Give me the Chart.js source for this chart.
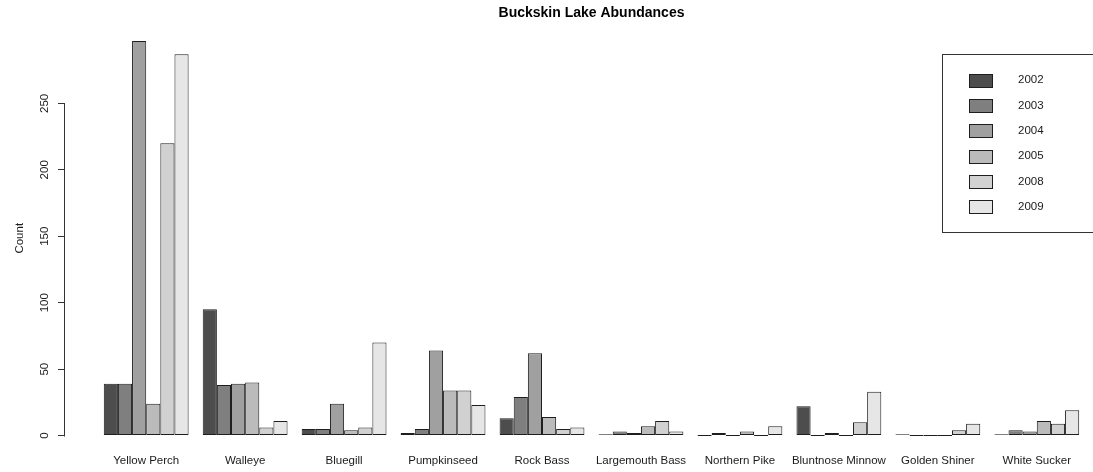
<!DOCTYPE html>
<html>
<head>
<meta charset="utf-8">
<title>Buckskin Lake Abundances</title>
<script src="https://cdn.jsdelivr.net/npm/chart.js@4.4.1/dist/chart.umd.min.js"></script>
<style>
  html, body { margin: 0; padding: 0; background: #ffffff; }
  canvas { display: block; }
</style>
</head>
<body>
<canvas id="abundance" width="1093" height="472"></canvas>
<script>
// Fish species sampled, one group of bars each
const categories = ['Yellow Perch', 'Walleye', 'Bluegill', 'Pumpkinseed', 'Rock Bass',
                    'Largemouth Bass', 'Northern Pike', 'Bluntnose Minnow', 'Golden Shiner', 'White Sucker'];

// Survey years, one bar per year inside each group
const years = ['2002', '2003', '2004', '2005', '2008', '2009'];

// Counts per species, in the order of `categories`
const count2002 = [39, 95, 5, 2, 13, 1, 0, 22, 1, 1];
const count2003 = [39, 38, 5, 5, 29, 3, 2, 0, 0, 4];
const count2004 = [297, 39, 24, 64, 62, 2, 0, 2, 0, 3];
const count2005 = [24, 40, 4, 34, 14, 7, 3, 0, 0, 11];
const count2008 = [220, 6, 6, 34, 5, 11, 0, 10, 4, 9];
const count2009 = [287, 11, 70, 23, 6, 3, 7, 33, 9, 19];
const yearCounts = [count2002, count2003, count2004, count2005, count2008, count2009];

// Labelled ticks on the count axis
const countTicks = [0, 50, 100, 150, 200, 250];

// Grey ramp, darkest for the earliest year
const greys = ['#4D4D4D', '#7F7F7F', '#A0A0A0', '#BBBBBB', '#D1D1D1', '#E6E6E6'];

const FONT = "'Liberation Sans', Arial, Helvetica, sans-serif";
const INK = '#1e1e1e';

// Species index runs along a linear axis; the range leaves an empty bar slot
// ahead of every group, the way base graphics spaces grouped bars.
const X_MIN = -0.8205, X_MAX = 9.568;
const Y_MIN = -11.9, Y_MAX = 308.9;
// Horizontal centre of the main title (centre of the full plotting region)
const TITLE_CENTRE = 591.5;

const datasets = years.map((yr, k) => ({
  label: yr,
  data: yearCounts[k].map((v, i) => ({ x: i, y: v })),
  backgroundColor: greys[k],
  borderColor: INK,
  borderWidth: 1,
  borderSkipped: false,
  minBarLength: 1,
  categoryPercentage: 6 / 7,
  barPercentage: 1
}));

// Centre the title over the plotting region rather than the canvas
const titlePlacement = {
  id: 'titlePlacement',
  afterLayout(chart) {
    const t = chart.titleBlock;
    if (!t) return;
    const half = Math.max(TITLE_CENTRE - chart.chartArea.left, 10);
    t.left = TITLE_CENTRE - half;
    t.right = TITLE_CENTRE + half;
  }
};

// Axis line spanning only the labelled ticks
const countAxisLine = {
  id: 'countAxisLine',
  afterDraw(chart) {
    const s = chart.scales.y;
    const ctx = chart.ctx;
    const x = Math.round(s.right) - 0.5;
    ctx.save();
    ctx.strokeStyle = '#333333';
    ctx.lineWidth = 1;
    ctx.beginPath();
    ctx.moveTo(x, Math.round(s.getPixelForValue(countTicks[0])) + 0.5);
    ctx.lineTo(x, Math.round(s.getPixelForValue(countTicks[countTicks.length - 1])) + 0.5);
    ctx.stroke();
    ctx.restore();
  }
};

// Boxed legend in the upper right of the plot
const boxedLegend = {
  id: 'boxedLegend',
  afterDraw(chart) {
    const ctx = chart.ctx;
    const left = 942.5, top = 54.5, bottom = 232.5, right = chart.chartArea.right + 10;
    const swX = 969.5, swW = 23, swH = 13, textX = 1018, firstRow = 80, rowGap = 25.34;
    ctx.save();
    ctx.strokeStyle = '#333333';
    ctx.lineWidth = 1;
    ctx.strokeRect(left, top, right - left, bottom - top);
    ctx.font = '11.5px ' + FONT;
    ctx.textBaseline = 'middle';
    ctx.textAlign = 'left';
    chart.data.datasets.forEach((ds, k) => {
      const yc = firstRow + k * rowGap;
      const y0 = Math.round(yc - swH / 2) + 0.5;
      ctx.fillStyle = ds.backgroundColor;
      ctx.fillRect(swX, y0, swW, swH);
      ctx.strokeStyle = INK;
      ctx.strokeRect(swX, y0, swW, swH);
      ctx.fillStyle = '#1a1a1a';
      ctx.fillText(ds.label, textX, yc);
    });
    ctx.restore();
  }
};

new Chart(document.getElementById('abundance'), {
  type: 'bar',
  data: { datasets },
  plugins: [titlePlacement, countAxisLine, boxedLegend],
  options: {
    responsive: false,
    animation: false,
    events: [],
    layout: { padding: { left: 0, right: 0, top: 0, bottom: 2 } },
    plugins: {
      legend: { display: false },
      tooltip: { enabled: false },
      title: {
        display: true,
        text: 'Buckskin Lake Abundances',
        fullSize: false,
        color: '#000000',
        font: { family: FONT, size: 14, weight: 'bold' },
        padding: { top: 5.2, bottom: 3.1 }
      }
    },
    scales: {
      x: {
        type: 'linear',
        offset: false,
        min: X_MIN,
        max: X_MAX,
        afterBuildTicks(scale) {
          scale.ticks = categories.map((c, i) => ({ value: i }));
        },
        grid: { display: false, drawTicks: false, offset: false },
        border: { display: false },
        ticks: {
          autoSkip: false,
          maxRotation: 0,
          minRotation: 0,
          padding: 2.4,
          color: '#1a1a1a',
          font: { family: FONT, size: 11.5 },
          callback: (v) => categories[v] ?? ''
        }
      },
      y: {
        type: 'linear',
        min: Y_MIN,
        max: Y_MAX,
        afterBuildTicks(scale) {
          scale.ticks = countTicks.map(v => ({ value: v }));
        },
        afterFit(scale) { scale.width = 65; },
        grid: {
          drawOnChartArea: false,
          drawTicks: true,
          tickLength: 7,
          color: '#333333',
          lineWidth: 1
        },
        border: { display: false },
        ticks: {
          minRotation: 90,
          maxRotation: 90,
          crossAlign: 'center',
          padding: 3.1,
          color: '#1a1a1a',
          font: { family: FONT, size: 11.5 }
        },
        title: {
          display: true,
          text: 'Count',
          color: '#1a1a1a',
          font: { family: FONT, size: 11.5 },
          padding: { top: 12.7, bottom: 0 }
        }
      }
    }
  }
});
</script>
</body>
</html>
